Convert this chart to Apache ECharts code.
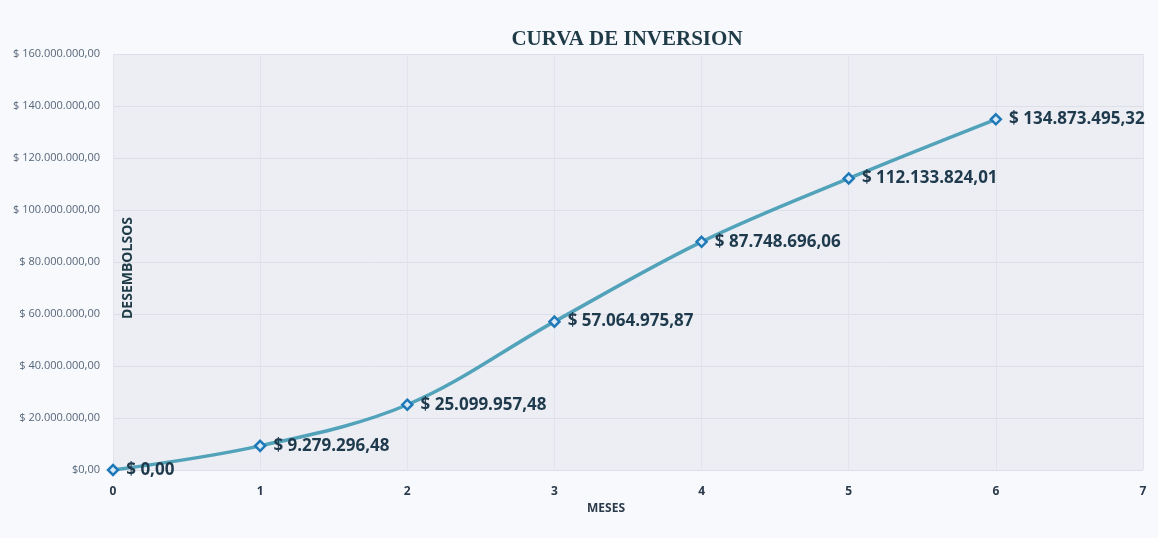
<!DOCTYPE html>
<html>
<head>
<meta charset="utf-8">
<script src="https://cdn.jsdelivr.net/npm/echarts@6/dist/echarts.min.js"></script>
<style>html,body{margin:0;padding:0;background:#f8f9fc;}#c{width:1158px;height:538px;}</style>
</head>
<body>
<div id="c"></div>
<script>
const months = [0, 1, 2, 3, 4, 5, 6];
const disbursements = [0, 9279296.48, 25099957.48, 57064975.87, 87748696.06, 112133824.01, 134873495.32];
const yTicks = [0, 20000000, 40000000, 60000000, 80000000, 100000000, 120000000, 140000000, 160000000];

function fmt(v) {
  const parts = v.toFixed(2).split('.');
  const int = parts[0].replace(/\B(?=(\d{3})+(?!\d))/g, '.');
  return int + ',' + parts[1];
}

const chart = echarts.init(document.getElementById('c'));
chart.setOption({
  backgroundColor: '#f8f9fc',
  animation: false,
  title: {
    text: 'CURVA DE INVERSION',
    left: 622, top: 24, textAlign: 'center',
    textStyle: { fontFamily: 'Liberation Serif', fontWeight: 'bold', fontSize: 21, color: '#1f3b47' }
  },
  grid: { left: 113, right: 15, top: 54, bottom: 68, show: true, backgroundColor: '#eceef4', borderWidth: 0 },
  xAxis: {
    type: 'value', min: 0, max: 7, interval: 1,
    name: 'MESES', nameLocation: 'middle', nameGap: 30,
    nameTextStyle: { fontFamily: 'Open Sans', fontWeight: 'bold', fontSize: 12, color: '#2b3a4a', padding: [0, 44, 0, 0] },
    axisLine: { show: false }, axisTick: { show: false },
    axisLabel: { margin: 16, fontFamily: 'Open Sans', fontWeight: 'bold', fontSize: 12, color: '#2b3a4a' },
    splitLine: { show: true, lineStyle: { color: '#e2e4ec', width: 1 } }
  },
  yAxis: {
    type: 'value', min: yTicks[0], max: yTicks[yTicks.length - 1], interval: yTicks[1] - yTicks[0],
    name: 'DESEMBOLSOS', nameLocation: 'middle', nameGap: -22, nameRotate: 90, nameMoveOverlap: false,
    nameTextStyle: { fontFamily: 'Open Sans', fontWeight: 'bold', fontSize: 14, color: '#1f3b47', padding: [0, 12, 0, 0] },
    axisLine: { show: false }, axisTick: { show: false },
    axisLabel: {
      margin: 13, fontFamily: 'Open Sans', fontSize: 11, color: '#56677a',
      formatter: v => v === 0 ? '$0,00' : '$ ' + fmt(v)
    },
    splitLine: { show: true, lineStyle: { color: '#dcdee8', width: 1 } }
  },
  series: [{
    type: 'line',
    data: months.map((m, i) => [m, disbursements[i]]),
    smooth: 0.35,
    symbol: 'diamond', symbolSize: 10,
    lineStyle: { color: '#52a3ba', width: 3.5 },
    itemStyle: { color: '#d9eaf6', borderColor: '#1f78b8', borderWidth: 2.5 },
    label: {
      show: true, position: 'right', distance: 7,
      fontFamily: 'Open Sans', fontWeight: 'bold', fontSize: 17, color: '#1e3a4c',
      formatter: p => '$ ' + fmt(p.value[1])
    }
  }]
});
</script>
</body>
</html>
